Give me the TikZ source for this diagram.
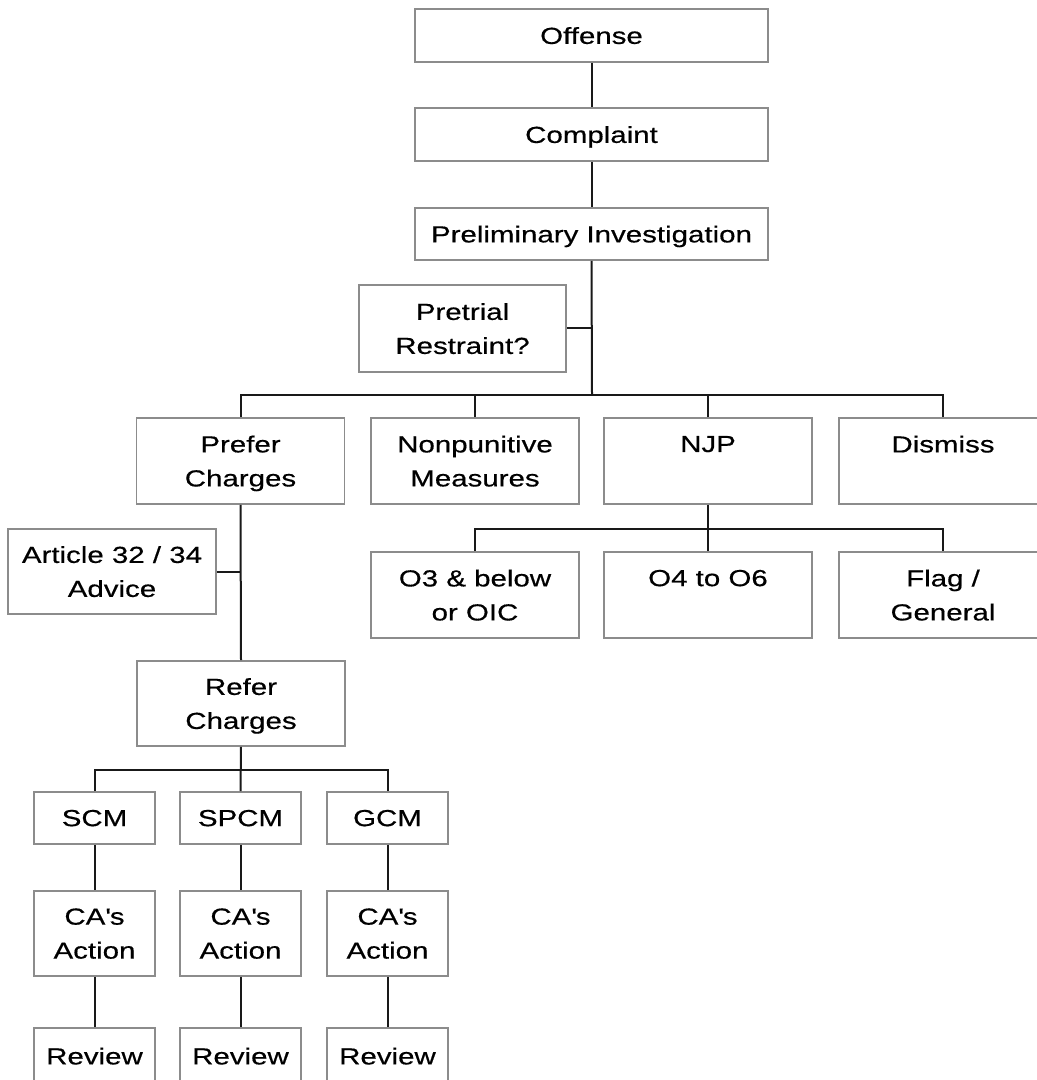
\documentclass[tikz,border=0pt]{standalone}
\usepackage{fontspec}
\setmainfont[FakeStretch=1.27, FakeBold=0.5]{Liberation Sans}
\definecolor{boxgray}{RGB}{140,140,140}
\definecolor{linedark}{RGB}{25,25,25}
\tikzset{
  stepbox/.style={draw=boxgray, line width=0.85pt, align=center, inner sep=0pt,
    text depth=0pt, font=\fontsize{11.6}{17}\selectfont},
  wide/.style={minimum width=176.5pt},
  option/.style={minimum width=104pt, minimum height=43pt},
  court/.style={minimum width=60.5pt},
  link/.style={draw=linedark, line width=1pt}
}
\newcommand{\castext}{CA\textquotesingle s\\Action}

\begin{document}
\begin{tikzpicture}[x=0.5pt, y=-0.5pt]
  \useasboundingbox (0,0) rectangle (1037,1080);
  \clip (0,0) rectangle (1037,1080);

  % top chain
  \node[stepbox, wide, minimum height=26.5pt] (off) at (591.5, 35.5) {Offense};
  \node[stepbox, wide, minimum height=26.5pt] (comp) at (591.5, 134.5) {Complaint};
  \node[stepbox, wide, minimum height=26pt] (prelim) at (591.5, 234) {Preliminary Investigation};
  \node[stepbox, minimum width=103.5pt, minimum height=43.5pt] (pretrial) at (462.5, 328.5) {Pretrial\\Restraint?};

  % four options
  \node[stepbox, option] (prefer) at (240.5, 461) {Prefer\\Charges};
  \node[stepbox, option] (nonpun) at (475, 461) {Nonpunitive\\Measures};
  \node[stepbox, option] (njp) at (708, 461) {NJP\\~};
  \node[stepbox, option] (dismiss) at (943, 461) {Dismiss\\~};

  % NJP authority
  \node[stepbox, option] (lowoic) at (475, 595) {O3 \& below\\or OIC};
  \node[stepbox, option] (midgrade) at (708, 595) {O4 to O6\\~};
  \node[stepbox, option] (flag) at (943, 595) {Flag /\\General};

  % courts-martial side
  \node[stepbox, minimum width=104pt, minimum height=42.5pt] (article) at (112, 571.5) {Article 32 / 34\\Advice};
  \node[stepbox, minimum width=104pt, minimum height=42.5pt] (refer) at (241, 703.5) {Refer\\Charges};

  \node[stepbox, court, minimum height=26pt] (scm) at (94.5, 818) {SCM};
  \node[stepbox, court, minimum height=26pt] (spcm) at (240.5, 818) {SPCM};
  \node[stepbox, court, minimum height=26pt] (gcm) at (387.5, 818) {GCM};

  \node[stepbox, court, minimum height=42.5pt] (scmca) at (94.5, 933.5) {\castext};
  \node[stepbox, court, minimum height=42.5pt] (spcmca) at (240.5, 933.5) {\castext};
  \node[stepbox, court, minimum height=42.5pt] (gcmca) at (387.5, 933.5) {\castext};

  \node[stepbox, court, minimum height=28pt] (scmrev) at (94.5, 1056) {Review};
  \node[stepbox, court, minimum height=28pt] (spcmrev) at (240.5, 1056) {Review};
  \node[stepbox, court, minimum height=28pt] (gcmrev) at (387.5, 1056) {Review};

  % bus points
  \coordinate (mainbus) at (592, 395);
  \coordinate (njpbus) at (708, 529);
  \coordinate (courtbus) at (241, 770);

  \draw[link] (off) -- (comp);
  \draw[link] (comp) -- (prelim);
  \draw[link] (prelim.south) -- (mainbus);
  \draw[link] (pretrial.east) -- (pretrial.east -| mainbus);
  \draw[link] (prefer.north) |- (mainbus) -| (dismiss.north);
  \draw[link] (nonpun.north) -- (nonpun.north |- mainbus);
  \draw[link] (njp.north) -- (njp.north |- mainbus);

  \draw[link] (njp.south) -- (midgrade.north);
  \draw[link] (lowoic.north) |- (njpbus) -| (flag.north);

  \draw[link] (prefer.south) -- (refer.north);
  \draw[link] (article.east) -- (article.east -| refer.north);
  \draw[link] (refer.south) -- (spcm.north);
  \draw[link] (scm.north) |- (courtbus) -| (gcm.north);

  \draw[link] (scm) -- (scmca);
  \draw[link] (spcm) -- (spcmca);
  \draw[link] (gcm) -- (gcmca);
  \draw[link] (scmca) -- (scmrev);
  \draw[link] (spcmca) -- (spcmrev);
  \draw[link] (gcmca) -- (gcmrev);
\end{tikzpicture}
\end{document}
